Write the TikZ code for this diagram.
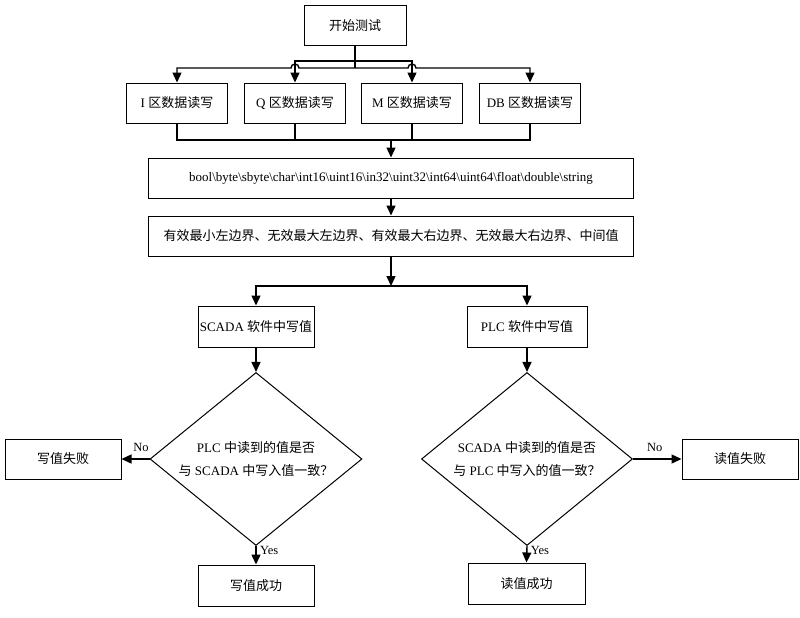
\documentclass[tikz,border=0pt]{standalone}
\usepackage{fontspec}
\setmainfont{Liberation Serif}
\newfontfamily\cjk{Noto Sans CJK SC}
\usetikzlibrary{shapes.geometric, positioning, arrows.meta}
\newcommand{\zh}[1]{{\cjk #1}}

\tikzset{
  box/.style={draw, line width=1pt, minimum width=101pt, minimum height=40pt,
    inner sep=0pt, font=\fontsize{13}{15}\selectfont},
  decision/.style={diamond, aspect=1.23, draw, line width=1pt, minimum width=212pt,
    minimum height=173pt, inner sep=0pt, align=center, font=\fontsize{13}{23}\selectfont},
  arr/.style={-{Triangle[length=10pt,width=9pt]}, line width=1.4pt},
  conn/.style={line width=1.4pt},
  lbl/.style={font=\fontsize{12.5}{14}\selectfont},
}

\begin{document}
\begin{tikzpicture}[x=1pt, y=-1pt]
    \useasboundingbox (0,0) rectangle (800,618);

    % start and memory areas
    \node[box, minimum width=102pt] (start) at (355, 26) {\zh{开始测试}};
    \node[box] (I) at (177, 103) {I \zh{区数据读写}};
    \node[box] (Q) at (295, 103) {Q \zh{区数据读写}};
    \node[box] (M) at (412, 103) {M \zh{区数据读写}};
    \node[box] (DB) at (530, 103) {DB \zh{区数据读写}};

    % data types and boundary values
    \node[box, minimum width=485pt] (types) at (391, 178)
        {bool\textbackslash byte\textbackslash sbyte\textbackslash char\textbackslash int16\textbackslash uint16\textbackslash in32\textbackslash uint32\textbackslash int64\textbackslash uint64\textbackslash float\textbackslash double\textbackslash string};
    \node[box, minimum width=485pt] (ranges) at (391, 236)
        {\zh{有效最小左边界、无效最大左边界、有效最大右边界、无效最大右边界、中间值}};

    % two branches
    \node[box, minimum width=116pt, minimum height=41pt] (scada) at (256, 326.5) {SCADA \zh{软件中写值}};
    \node[box, minimum width=120pt, minimum height=41pt] (plc) at (527, 326.5) {PLC \zh{软件中写值}};

    \node[decision] (chkl) at (256, 459) {PLC \zh{中读到的值是否}\\\zh{与} SCADA \zh{中写入值一致？}};
    \node[decision, minimum width=211pt] (chkr) at (527, 459) {SCADA \zh{中读到的值是否}\\\zh{与} PLC \zh{中写入的值一致？}};

    \node[box, minimum width=116pt] (wfail) at (63, 459) {\zh{写值失败}};
    \node[box, minimum width=116pt] (rfail) at (740, 459) {\zh{读值失败}};
    \node[box, minimum width=116pt, minimum height=41pt] (wok) at (256, 585.5) {\zh{写值成功}};
    \node[box, minimum width=117pt, minimum height=41pt] (rok) at (526.5, 583.5) {\zh{读值成功}};

    % fork from start, with line jumps
    \coordinate (split) at (355, 68);
    \coordinate (upper) at (355, 61);
    \coordinate (hq) at (295, 68);
    \coordinate (hm) at (412, 68);
    \draw[conn] (start.south) -- (split);
    \draw[arr] (split) -- ([xshift=4pt]hq) arc[start angle=0, end angle=180, radius=4pt] -| (I.north);
    \draw[arr] (split) -- ([xshift=-4pt]hm) arc[start angle=180, end angle=0, radius=4pt] -| (DB.north);
    \draw[arr] (upper) -| (Q.north);
    \draw[arr] (upper) -| (M.north);

    % merge into data types
    \coordinate (join) at (391, 140);
    \draw[conn] (I.south) -- (I.south |- join) -- (DB.south |- join) -- (DB.south);
    \draw[conn] (Q.south) -- (Q.south |- join);
    \draw[conn] (M.south) -- (M.south |- join);
    \draw[arr] (join) -- (types.north);
    \draw[arr] (types) -- (ranges);

    % split into the two tests
    \coordinate (fork) at (391, 286);
    \draw[arr] (ranges.south) -- (fork);
    \draw[arr] (fork) -| (scada.north);
    \draw[arr] (fork) -| (plc.north);
    \draw[arr] (scada) -- (chkl);
    \draw[arr] (plc) -- (chkr);

    % outcomes
    \draw[arr] (chkl.west) -- node[lbl, above=3pt, pos=0.3] (nol) {No} (wfail.east);
    \draw[arr] (chkl.south) -- node[lbl, right, pos=0.25] (yesl) {Yes} (wok.north);
    \draw[arr] (chkr.east) -- node[lbl, above=3pt, pos=0.45] (nor) {No} (rfail.west);
    \draw[arr] (chkr.south) -- node[lbl, right, pos=0.25] (yesr) {Yes} (rok.north);
\end{tikzpicture}
\end{document}
